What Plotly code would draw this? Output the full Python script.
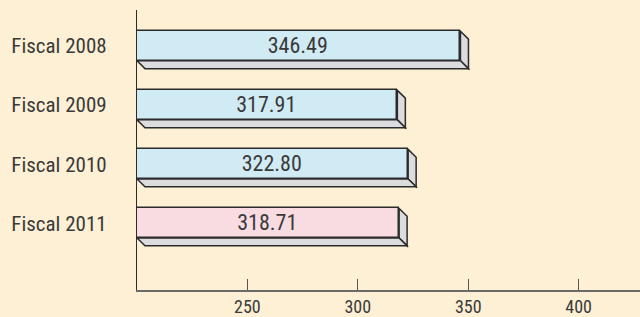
import plotly.graph_objects as go

categories = ["Fiscal 2008", "Fiscal 2009", "Fiscal 2010", "Fiscal 2011"]
values = [346.49, 317.91, 322.80, 318.71]
bar_colors = ["#d1ebf4", "#d1ebf4", "#d1ebf4", "#f9dbe2"]
tick_vals = [250, 300, 350, 400]
tick_text = ["250", "300", "350", "400"]

AXIS_MIN = 200
W, H = 640, 317
ML, MR, MT, MB = 137, 0, 10, 21
X_MAX = 427.8
Y_RANGE = [4.13, -0.61]
BAR_W = 0.5
DEPTH_PX = 8

plot_w = W - ML - MR
plot_h = H - MT - MB
dx = DEPTH_PX * (X_MAX - AXIS_MIN) / plot_w
dy = DEPTH_PX * (Y_RANGE[0] - Y_RANGE[1]) / plot_h

FONT = "Liberation Sans Narrow, Arial Narrow, Roboto Condensed, sans-serif"
EDGE = "#2b2b2b"
SIDE = "#dcdcde"

ypos = list(range(len(categories)))

fig = go.Figure()
fig.add_trace(go.Bar(
    y=ypos,
    x=[v - AXIS_MIN for v in values],
    base=[AXIS_MIN] * len(values),
    orientation="h",
    width=BAR_W,
    marker=dict(color=bar_colors, line=dict(color=EDGE, width=1.5)),
    text=[f"{v:.2f}" for v in values],
    textposition="inside",
    insidetextanchor="middle",
    textangle=0,
    constraintext="none",
    textfont=dict(family=FONT, size=22, color="#3a3a3a"),
    hoverinfo="skip",
))

shapes = []
for i, v in enumerate(values):
    top = i - BAR_W / 2
    bot = i + BAR_W / 2
    # right side face
    shapes.append(dict(
        type="path", xref="x", yref="y", layer="below",
        path=f"M {v},{top} L {v+dx},{top+dy} L {v+dx},{bot+dy} L {v},{bot} Z",
        fillcolor=SIDE, line=dict(color=EDGE, width=1.5),
    ))
    # bottom face
    shapes.append(dict(
        type="path", xref="x", yref="y", layer="below",
        path=f"M {AXIS_MIN},{bot} L {AXIS_MIN+dx},{bot+dy} L {v+dx},{bot+dy} L {v},{bot} Z",
        fillcolor=SIDE, line=dict(color=EDGE, width=1.5),
    ))

fig.update_layout(
    width=W, height=H,
    margin=dict(l=ML, r=MR, t=MT, b=MB),
    paper_bgcolor="#fdf0d4",
    plot_bgcolor="#fdf0d4",
    showlegend=False,
    shapes=shapes,
    bargap=0,
    xaxis=dict(
        range=[AXIS_MIN, X_MAX],
        tickvals=tick_vals, ticktext=tick_text,
        ticks="inside", ticklen=11, tickcolor="#555555", tickwidth=1,
        showgrid=False, zeroline=False,
        showline=True, linecolor="#6a6a6a", linewidth=1.5,
        tickfont=dict(family=FONT, size=18, color="#3a3a3a"),
    ),
    yaxis=dict(
        range=Y_RANGE,
        tickvals=ypos, ticktext=categories,
        ticks="", ticklabelstandoff=25,
        showgrid=False, zeroline=False,
        showline=True, linecolor="#2b2b2b", linewidth=1.2,
        tickfont=dict(family=FONT, size=21, color="#3a3a3a"),
    ),
)

fig.write_html(
    "out.html",
    config={"displayModeBar": False},
    post_script="document.body.style.margin='0';document.body.style.overflow='hidden';",
)
